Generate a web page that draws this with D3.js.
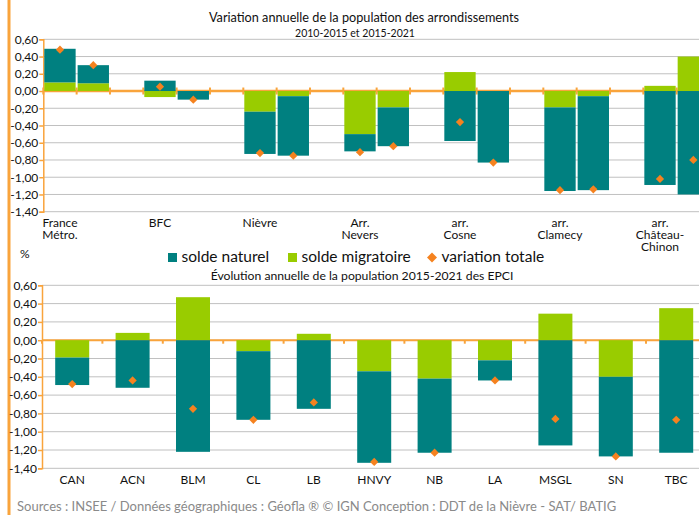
<!DOCTYPE html>
<html>
<head>
<meta charset="utf-8">
<script src="https://cdn.jsdelivr.net/npm/d3@7"></script>
<style>
  body { margin: 0; background: #fff; }
  svg { display: block; font-family: Lato, "Open Sans", sans-serif; }
  .grid line { stroke: #c0c0c0; stroke-width: 1; }
  .tick-label { font-size: 12px; fill: #111; }
</style>
</head>
<body>
<script>
// --- top chart: arrondissements, two periods each
const topGroups = ['France\nMétro.', 'BFC', 'Nièvre', 'Arr.\nNevers', 'arr.\nCosne', 'arr.\nClamecy', 'arr.\nChâteau-\nChinon'];
const topPeriods = ['2010-2015', '2015-2021'];
const topNaturel    = [0.39, 0.21, 0.12, -0.10, -0.49, -0.69, -0.20, -0.45, -0.58, -0.83, -0.97, -1.09, -1.09, -1.20];
const topMigratoire = [0.10, 0.09, -0.07, 0.00, -0.24, -0.06, -0.50, -0.19, 0.22, 0.00, -0.19, -0.06, 0.06, 0.40];
const topTotale     = [0.48, 0.30, 0.05, -0.10, -0.72, -0.75, -0.71, -0.64, -0.36, -0.83, -1.15, -1.14, -1.02, -0.80];

// --- bottom chart: EPCI 2015-2021
const epci = ['CAN', 'ACN', 'BLM', 'CL', 'LB', 'HNVY', 'NB', 'LA', 'MSGL', 'SN', 'TBC'];
const epciNaturel    = [-0.30, -0.52, -1.22, -0.75, -0.75, -1.00, -0.81, -0.22, -1.15, -0.87, -1.23];
const epciMigratoire = [-0.19, 0.08, 0.47, -0.12, 0.07, -0.34, -0.42, -0.22, 0.29, -0.40, 0.35];
const epciTotale     = [-0.48, -0.44, -0.75, -0.87, -0.68, -1.33, -1.23, -0.44, -0.86, -1.27, -0.87];

const yTicks = [0.6, 0.4, 0.2, 0, -0.2, -0.4, -0.6, -0.8, -1.0, -1.2, -1.4];
const seriesNames = ['solde naturel', 'solde migratoire', 'variation totale'];

const teal = '#008080', green = '#99cc00', diamond = '#f5821f', axisOrange = '#f9a43c';
const W = 699, H = 515;

const fr = d3.formatLocale({decimal: ',', thousands: ' ', grouping: [3], currency: ['', '€'], minus: '-'});
const fmt = fr.format('.2f');

const svg = d3.select('body').append('svg')
  .attr('width', W)
  .attr('height', H);

// left orange frame line
svg.append('line')
  .attr('x1', 9).attr('x2', 9).attr('y1', 0).attr('y2', H)
  .attr('stroke', axisOrange).attr('stroke-width', 3);

const stack = d3.stack()
  .keys(['migratoire', 'naturel'])
  .offset(d3.stackOffsetDiverging);

const diamondPath = d3.symbol().type(d3.symbolSquare).size(34)();

function drawChart(opt) {
  const { rows, domain, xRange, yRange, tickUp } = opt;
  const x = d3.scaleBand().domain(domain).range(xRange)
    .paddingInner(opt.padIn).paddingOuter(opt.padIn / 2);
  const y = d3.scaleLinear().domain([-1.4, 0.6]).range(yRange);
  const g = svg.append('g');

  // gridlines
  g.append('g').attr('class', 'grid')
    .selectAll('line').data(yTicks).join('line')
    .attr('x1', xRange[0]).attr('x2', W)
    .attr('y1', d => y(d)).attr('y2', d => y(d));

  // y axis
  const yAxis = d3.axisLeft(y).tickValues(yTicks).tickFormat(fmt).tickSize(4).tickPadding(1);
  const ya = g.append('g').attr('transform', `translate(${xRange[0]},0)`).call(yAxis);
  ya.select('.domain').attr('stroke', axisOrange).attr('stroke-width', 1.5);
  ya.selectAll('.tick line').attr('stroke', axisOrange).attr('stroke-width', 1.5);
  ya.attr('font-family', null).attr('font-size', null);
  ya.selectAll('.tick text').attr('class', 'tick-label');

  // zero line with ticks at each slot boundary
  const step = x.step();
  const bounds = d3.range(domain.length + 1).map(i => xRange[0] + i * step);
  g.append('line')
    .attr('x1', xRange[0]).attr('x2', W)
    .attr('y1', y(0)).attr('y2', y(0))
    .attr('stroke', axisOrange).attr('stroke-width', opt.zeroWidth);
  g.append('g').selectAll('line').data(bounds).join('line')
    .attr('x1', d => d).attr('x2', d => d)
    .attr('y1', y(0) - (tickUp ? 3.5 : 0)).attr('y2', y(0) + 3.5)
    .attr('stroke', axisOrange).attr('stroke-width', 2);

  // stacked bars
  const series = stack(rows);
  g.append('g').selectAll('g').data(series).join('g')
    .attr('fill', d => d.key === 'naturel' ? teal : green)
    .selectAll('rect').data(d => d).join('rect')
    .attr('x', d => x(d.data.key))
    .attr('width', x.bandwidth())
    .attr('y', d => y(Math.max(d[0], d[1])))
    .attr('height', d => Math.abs(y(d[0]) - y(d[1])));

  // variation totale
  g.append('g').selectAll('path').data(rows).join('path')
    .attr('d', diamondPath)
    .attr('fill', diamond)
    .attr('transform', d => `translate(${x(d.key) + x.bandwidth() / 2},${y(d.totale)}) rotate(45)`);

  return { x, y, g };
}

// ---------- top chart
const topRows = [];
const topDomain = [];
topGroups.forEach((grp, gi) => {
  topPeriods.forEach((p, pi) => {
    const i = gi * 2 + pi;
    const key = gi + '-' + pi;
    topDomain.push(key);
    topRows.push({ key, group: grp, period: p, naturel: topNaturel[i], migratoire: topMigratoire[i], totale: topTotale[i] });
  });
  if (gi < topGroups.length - 1) topDomain.push(gi + '-gap');
});

const topChart = drawChart({
  rows: topRows, domain: topDomain,
  xRange: [43.3, 710], yRange: [211.7, 39.3],
  padIn: 0.06, zeroWidth: 2.5, tickUp: true
});

topChart.g.append('g').selectAll('text').data(topGroups).join('text')
  .attr('class', 'tick-label')
  .attr('text-anchor', 'middle')
  .attr('x', (d, i) => topChart.x(i + '-0') + topChart.x.bandwidth() / 2)
  .attr('y', 227)
  .selectAll('tspan').data(d => d.split('\n')).join('tspan')
  .attr('x', function () { return this.parentNode.getAttribute('x'); })
  .attr('dy', (d, i) => i === 0 ? 0 : 12)
  .text(d => d);

svg.append('text')
  .attr('x', 364).attr('y', 22)
  .attr('text-anchor', 'middle').attr('font-size', 12.7).attr('fill', '#111')
  .text('Variation annuelle de la population des arrondissements');
svg.append('text')
  .attr('x', 355).attr('y', 36.5)
  .attr('text-anchor', 'middle').attr('font-size', 10.5).attr('fill', '#111')
  .text('2010-2015 et 2015-2021');

// ---------- legend
svg.append('text').attr('x', 20).attr('y', 258).attr('font-size', 12).attr('fill', '#111').text('%');

const legend = svg.append('g');
const legendX = [168, 288, 428];
legend.selectAll('rect').data(seriesNames.slice(0, 2)).join('rect')
  .attr('x', (d, i) => legendX[i]).attr('y', 253)
  .attr('width', 9).attr('height', 9)
  .attr('fill', (d, i) => i === 0 ? teal : green);
legend.append('path')
  .attr('d', d3.symbol().type(d3.symbolSquare).size(50)())
  .attr('fill', diamond)
  .attr('transform', `translate(${legendX[2] + 4},257.5) rotate(45)`);
legend.selectAll('text').data(seriesNames).join('text')
  .attr('x', (d, i) => legendX[i] + 13.5).attr('y', 261.5)
  .attr('font-size', 15.5).attr('fill', '#111')
  .text(d => d);

// ---------- bottom chart
const bottomRows = epci.map((e, i) => ({ key: e, naturel: epciNaturel[i], migratoire: epciMigratoire[i], totale: epciTotale[i] }));

const bottomChart = drawChart({
  rows: bottomRows, domain: epci,
  xRange: [42, 706.4], yRange: [468.3, 285.3],
  padIn: 0.437, zeroWidth: 2, tickUp: false
});

bottomChart.g.append('g').selectAll('text').data(epci).join('text')
  .attr('class', 'tick-label')
  .attr('text-anchor', 'middle')
  .attr('x', d => bottomChart.x(d) + bottomChart.x.bandwidth() / 2)
  .attr('y', 483.5)
  .text(d => d);

svg.append('text')
  .attr('x', 362).attr('y', 280)
  .attr('text-anchor', 'middle').attr('font-size', 12.2).attr('fill', '#111')
  .text('Évolution annuelle de la population 2015-2021 des EPCI');

// ---------- source
svg.append('text')
  .attr('x', 17).attr('y', 511)
  .attr('font-size', 13).attr('fill', '#8a8a8a')
  .text('Sources : INSEE / Données géographiques : Géofla ® © IGN Conception : DDT de la Nièvre - SAT/ BATIG');
</script>
</body>
</html>
